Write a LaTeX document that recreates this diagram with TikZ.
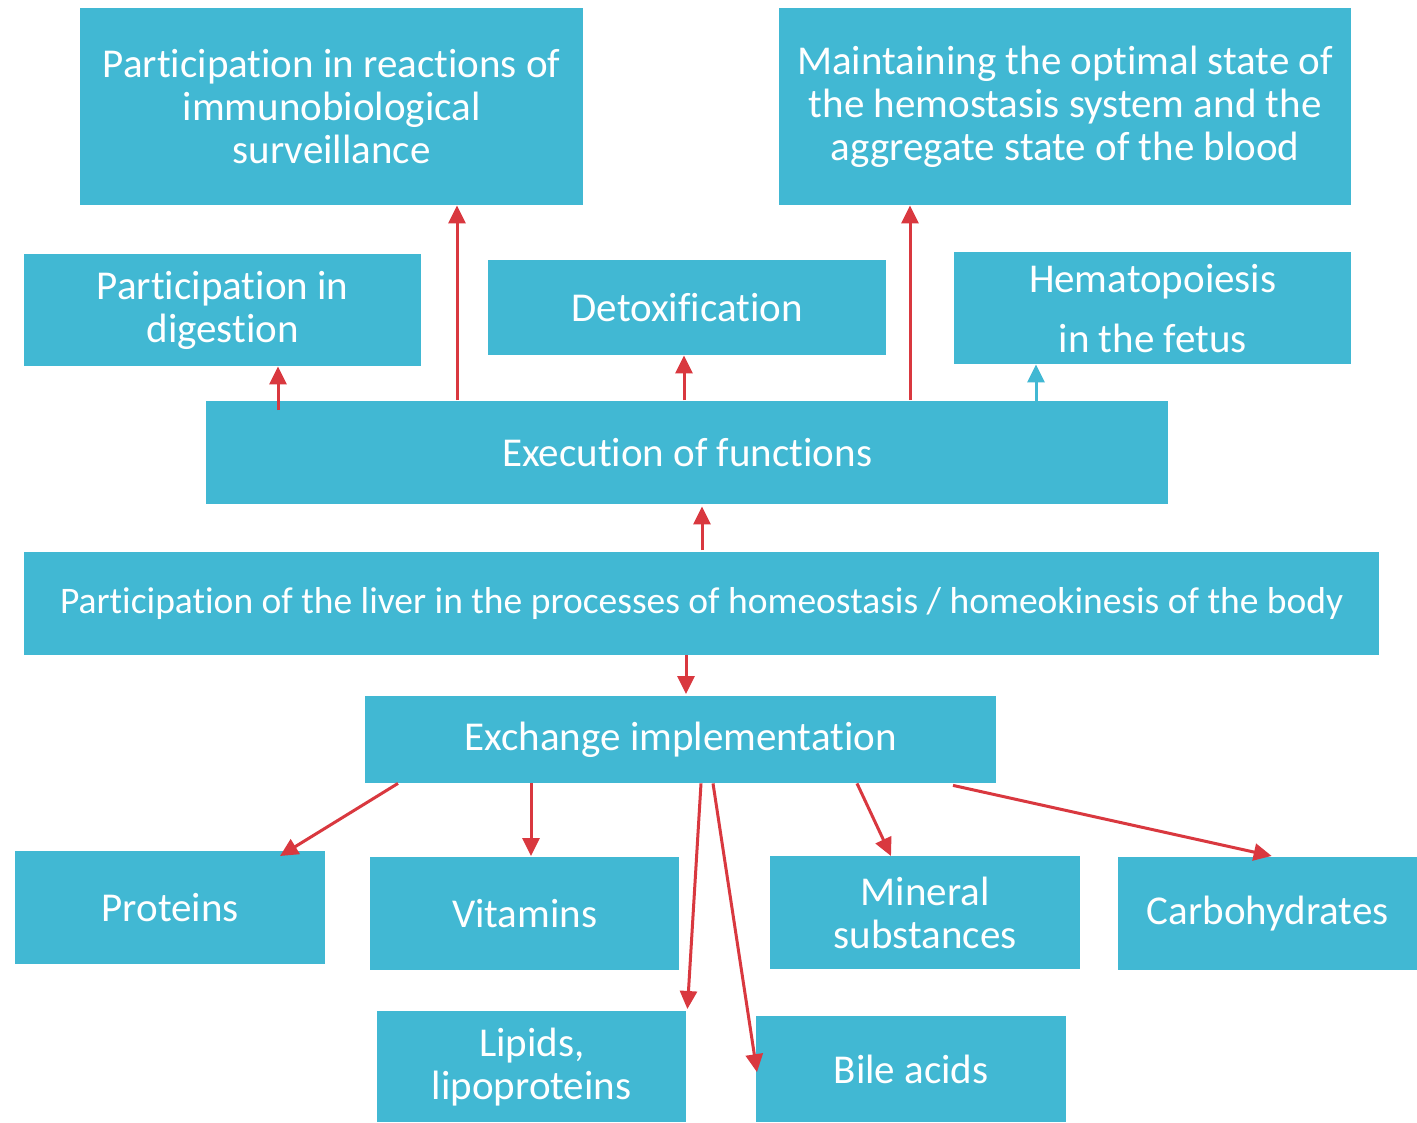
\documentclass[tikz,border=0pt]{standalone}
\usepackage{fontspec}
\setmainfont[Ligatures={NoCommon,NoContextual}]{Carlito}
\usetikzlibrary{arrows.meta}
\definecolor{boxblue}{RGB}{65,184,211}
\definecolor{arrred}{RGB}{217,56,63}
\begin{document}
\begin{tikzpicture}[x=1pt,y=-1pt,
  box/.style={fill=boxblue,draw=none,text=white,align=center,anchor=north west,inner sep=0pt,
    font=\fontsize{41}{43}\selectfont},
  arr/.style={draw=arrred,line width=3pt,-{Triangle[length=18pt,width=17pt]}},
  arrb/.style={draw=boxblue,line width=3pt,-{Triangle[length=18pt,width=17pt]}}]
\useasboundingbox[fill=white] (0,0) rectangle (1417,1123);
% top row
\node[box,minimum width=503pt,minimum height=197pt] (imm) at (80,8) {Participation in reactions of\\immunobiological\\surveillance};
\node[box,minimum width=572pt,minimum height=197pt] (hem) at (779,8) {Maintaining the optimal state of\\the hemostasis system and the\\aggregate state of the blood};
% second row
\node[box,minimum width=397pt,minimum height=112pt] (dig) at (24,254) {Participation in\\digestion};
\node[box,minimum width=398pt,minimum height=95pt] (det) at (488,260) {Detoxification};
\node[box,minimum width=397pt,minimum height=112pt,font=\fontsize{41}{60}\selectfont] (hmt) at (954,252) {Hematopoiesis\\in the fetus};
% middle
\node[box,minimum width=962pt,minimum height=103pt] (exe) at (206,401) {Execution of functions};
\node[box,minimum width=1355pt,minimum height=103pt,font=\fontsize{37.5}{43}\selectfont] (liv) at (24,552) {Participation of the liver in the processes of homeostasis / homeokinesis of the body};
\node[box,minimum width=631pt,minimum height=87pt] (exc) at (365,696) {Exchange implementation};
% bottom
\node[box,minimum width=310pt,minimum height=113pt] (pro) at (15,851) {Proteins};
\node[box,minimum width=309pt,minimum height=113pt] (vit) at (370,857) {Vitamins};
\node[box,minimum width=310pt,minimum height=113pt] (min) at (770,856) {Mineral\\substances};
\node[box,minimum width=299pt,minimum height=113pt] (car) at (1118,857) {Carbohydrates};
\node[box,minimum width=309pt,minimum height=111pt] (lip) at (377,1011) {Lipids,\\lipoproteins};
\node[box,minimum width=310pt,minimum height=106pt] (bil) at (756,1016) {Bile acids};
% arrows up from execution
\draw[arr] ([xshift=72pt,yshift=-9pt]exe.north west) -- ([xshift=254pt]dig.south west);
\draw[arr] ([xshift=251pt,yshift=1pt]exe.north west) -- ([xshift=377pt]imm.south west);
\draw[arr] ([xshift=478pt,yshift=1pt]exe.north west) -- ([xshift=196pt]det.south west);
\draw[arr] ([xshift=704pt,yshift=1pt]exe.north west) -- ([xshift=131pt]hem.south west);
\draw[arrb] ([xshift=830pt]exe.north west) -- ([xshift=82pt]hmt.south west);
% liver
\draw[arr] ([xshift=678pt,yshift=2pt]liv.north west) -- ([xshift=496pt,yshift=-2pt]exe.south west);
\draw[arr] ([xshift=662pt]liv.south west) -- ([xshift=321pt,yshift=2pt]exc.north west);
% exchange
\draw[arr] ([xshift=33pt]exc.south west) -- ([xshift=265pt,yshift=-5pt]pro.north west);
\draw[arr] ([xshift=166pt]exc.south west) -- ([xshift=161pt,yshift=1pt]vit.north west);
\draw[arr] ([xshift=336pt]exc.south west) -- ([xshift=1pt,yshift=2pt]lip.north east);
\draw[arr] ([xshift=348pt]exc.south west) -- ([xshift=1pt,yshift=-3pt]bil.west);
\draw[arr] ([xshift=492pt]exc.south west) -- ([xshift=121pt]min.north west);
\draw[arr] ([xshift=588pt,yshift=-2pt]exc.south west) -- ([xshift=4pt,yshift=1pt]car.north);
\end{tikzpicture}
\end{document}
